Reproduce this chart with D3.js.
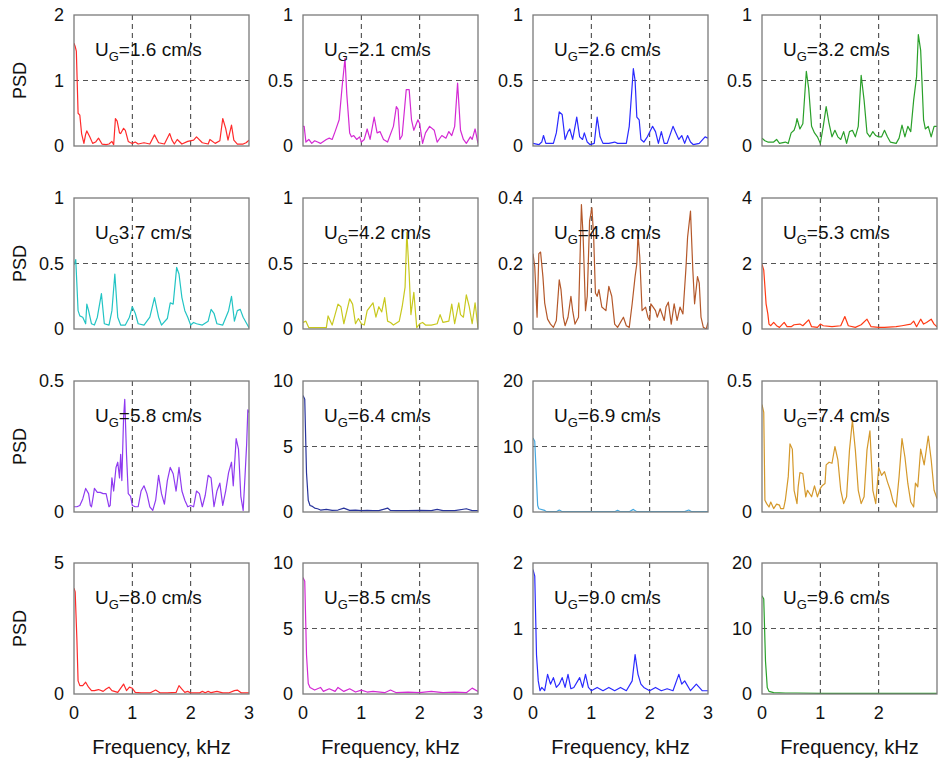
<!DOCTYPE html>
<html>
<head>
<meta charset="utf-8">
<script src="https://cdn.jsdelivr.net/npm/d3@7"></script>
<style>
  html, body { margin: 0; padding: 0; background: #fff; }
  svg { display: block; font-family: "Liberation Sans", Arial, sans-serif; }
</style>
</head>
<body>
<svg id="chart" width="938" height="759"></svg>
<script>
// PSD spectra, [frequency kHz, PSD] pairs, one array per gas velocity
const ug16 = [[0,1.57],[0.02,1.52],[0.04,1.45],[0.07,0.5],[0.1,0.47],[0.13,0.19],[0.17,0.04],[0.2,0.18],[0.22,0.23],[0.27,0.14],[0.32,0.04],[0.37,0.06],[0.42,0.12],[0.48,0.03],[0.55,0.02],[0.6,0.03],[0.65,0.07],[0.68,0.02],[0.71,0.42],[0.74,0.38],[0.78,0.2],[0.8,0.19],[0.85,0.27],[0.88,0.24],[0.93,0.07],[0.97,0.05],[1.0,0.04],[1.05,0.06],[1.1,0.03],[1.2,0.05],[1.3,0.03],[1.38,0.17],[1.45,0.05],[1.55,0.03],[1.64,0.19],[1.68,0.09],[1.72,0.03],[1.77,0.1],[1.85,0.03],[1.95,0.07],[2.05,0.09],[2.1,0.14],[2.2,0.05],[2.3,0.03],[2.33,0.1],[2.42,0.04],[2.5,0.08],[2.55,0.42],[2.6,0.27],[2.64,0.09],[2.7,0.32],[2.74,0.09],[2.8,0.03],[2.9,0.03],[2.95,0.05],[3.0,0.09]];
const ug21 = [[0,0.15],[0.02,0.15],[0.05,0.03],[0.1,0.05],[0.15,0.02],[0.2,0.04],[0.25,0.03],[0.3,0.02],[0.4,0.05],[0.45,0.06],[0.5,0.05],[0.55,0.11],[0.62,0.2],[0.67,0.45],[0.72,0.67],[0.75,0.4],[0.8,0.1],[0.83,0.07],[0.87,0.08],[0.92,0.05],[0.97,0.07],[1.0,0.03],[1.05,0.05],[1.1,0.13],[1.15,0.05],[1.22,0.22],[1.27,0.1],[1.32,0.11],[1.38,0.05],[1.45,0.03],[1.55,0.15],[1.6,0.3],[1.63,0.28],[1.66,0.05],[1.7,0.08],[1.77,0.43],[1.82,0.43],[1.86,0.2],[1.9,0.12],[1.97,0.2],[2.0,0.17],[2.05,0.02],[2.1,0.1],[2.17,0.15],[2.25,0.12],[2.3,0.03],[2.38,0.08],[2.45,0.06],[2.5,0.11],[2.55,0.08],[2.6,0.15],[2.65,0.48],[2.7,0.12],[2.75,0.05],[2.8,0.02],[2.87,0.07],[2.9,0.05],[2.95,0.13],[3.0,0.02]];
const ug26 = [[0,0.02],[0.1,0.01],[0.15,0.03],[0.18,0.08],[0.22,0.02],[0.3,0.02],[0.35,0.02],[0.4,0.1],[0.45,0.26],[0.5,0.24],[0.55,0.05],[0.6,0.11],[0.63,0.13],[0.68,0.05],[0.75,0.22],[0.8,0.07],[0.85,0.05],[0.88,0.1],[0.93,0.03],[0.98,0.01],[1.05,0.02],[1.1,0.22],[1.15,0.07],[1.2,0.02],[1.3,0.02],[1.4,0.03],[1.45,0.02],[1.55,0.02],[1.6,0.02],[1.65,0.15],[1.72,0.59],[1.75,0.5],[1.78,0.22],[1.82,0.2],[1.85,0.05],[1.9,0.03],[1.96,0.07],[2.05,0.15],[2.1,0.11],[2.15,0.02],[2.2,0.11],[2.25,0.02],[2.3,0.02],[2.4,0.15],[2.45,0.1],[2.5,0.05],[2.55,0.08],[2.6,0.02],[2.65,0.08],[2.7,0.03],[2.75,0.01],[2.85,0.02],[2.95,0.07],[3.0,0.06]];
const ug32 = [[0,0.06],[0.05,0.04],[0.1,0.03],[0.2,0.03],[0.25,0.05],[0.3,0.02],[0.4,0.03],[0.45,0.02],[0.5,0.1],[0.55,0.12],[0.58,0.16],[0.6,0.21],[0.65,0.13],[0.7,0.17],[0.76,0.57],[0.8,0.44],[0.85,0.15],[0.9,0.1],[0.95,0.07],[1.0,0.02],[1.05,0.15],[1.1,0.3],[1.15,0.17],[1.2,0.07],[1.25,0.12],[1.3,0.07],[1.35,0.05],[1.4,0.11],[1.45,0.02],[1.5,0.11],[1.55,0.12],[1.6,0.07],[1.65,0.15],[1.7,0.54],[1.75,0.35],[1.8,0.1],[1.85,0.07],[1.9,0.11],[1.95,0.08],[2.0,0.07],[2.05,0.07],[2.1,0.12],[2.15,0.07],[2.2,0.03],[2.3,0.02],[2.35,0.06],[2.4,0.16],[2.45,0.07],[2.5,0.15],[2.55,0.11],[2.6,0.35],[2.65,0.53],[2.68,0.85],[2.72,0.73],[2.77,0.2],[2.8,0.13],[2.85,0.15],[2.9,0.07],[2.95,0.15],[3.0,0.15]];
const ug37 = [[0,0.49],[0.03,0.53],[0.07,0.14],[0.1,0.1],[0.15,0.09],[0.2,0.04],[0.22,0.19],[0.25,0.14],[0.3,0.04],[0.35,0.03],[0.4,0.09],[0.47,0.27],[0.52,0.04],[0.6,0.03],[0.65,0.14],[0.7,0.42],[0.75,0.09],[0.8,0.03],[0.88,0.03],[0.95,0.09],[1.0,0.17],[1.05,0.12],[1.1,0.04],[1.2,0.03],[1.3,0.09],[1.38,0.24],[1.45,0.09],[1.5,0.03],[1.6,0.08],[1.65,0.2],[1.7,0.19],[1.76,0.47],[1.8,0.42],[1.85,0.24],[1.9,0.14],[1.95,0.09],[2.0,0.03],[2.05,0.05],[2.1,0.04],[2.2,0.03],[2.3,0.06],[2.35,0.15],[2.4,0.12],[2.45,0.04],[2.55,0.03],[2.65,0.14],[2.7,0.25],[2.75,0.06],[2.8,0.14],[2.85,0.15],[2.9,0.09],[2.95,0.05],[3.0,0.01]];
const ug42 = [[0,0.05],[0.05,0.06],[0.1,0.01],[0.2,0.01],[0.3,0.01],[0.4,0.01],[0.43,0.1],[0.48,0.05],[0.5,0.03],[0.6,0.19],[0.65,0.17],[0.7,0.04],[0.8,0.23],[0.85,0.19],[0.9,0.04],[0.95,0.08],[1.0,0.04],[1.05,0.03],[1.1,0.14],[1.2,0.2],[1.25,0.09],[1.3,0.17],[1.35,0.13],[1.4,0.24],[1.45,0.06],[1.5,0.05],[1.55,0.03],[1.65,0.06],[1.7,0.17],[1.75,0.32],[1.78,0.74],[1.82,0.42],[1.85,0.11],[1.9,0.28],[1.95,0.01],[2.0,0.04],[2.05,0.05],[2.1,0.03],[2.2,0.03],[2.3,0.04],[2.35,0.11],[2.4,0.05],[2.5,0.06],[2.55,0.19],[2.6,0.04],[2.67,0.2],[2.7,0.11],[2.75,0.09],[2.8,0.26],[2.85,0.17],[2.9,0.04],[2.95,0.2],[3.0,0.01]];
const ug48 = [[0,0.23],[0.03,0.19],[0.07,0.036],[0.1,0.23],[0.13,0.235],[0.17,0.16],[0.2,0.08],[0.25,0.03],[0.3,0.015],[0.35,0.005],[0.4,0.026],[0.45,0.15],[0.48,0.12],[0.52,0.036],[0.55,0.01],[0.6,0.036],[0.65,0.1],[0.68,0.056],[0.72,0.015],[0.78,0.036],[0.83,0.38],[0.86,0.28],[0.9,0.056],[0.93,0.1],[0.97,0.33],[1.01,0.37],[1.04,0.28],[1.07,0.11],[1.1,0.1],[1.13,0.12],[1.18,0.067],[1.25,0.056],[1.3,0.13],[1.35,0.1],[1.4,0.015],[1.45,0.005],[1.55,0.036],[1.6,0.01],[1.65,0.005],[1.7,0.077],[1.75,0.16],[1.78,0.2],[1.8,0.29],[1.83,0.22],[1.87,0.056],[1.93,0.067],[1.97,0.036],[2.0,0.026],[2.02,0.077],[2.06,0.067],[2.1,0.056],[2.13,0.036],[2.18,0.062],[2.25,0.026],[2.28,0.067],[2.32,0.082],[2.37,0.015],[2.42,0.077],[2.47,0.026],[2.52,0.067],[2.57,0.046],[2.62,0.18],[2.65,0.28],[2.7,0.36],[2.74,0.18],[2.77,0.077],[2.82,0.16],[2.85,0.14],[2.88,0.036],[2.92,0.005],[2.97,0.0],[3.0,0.02]];
const ug53 = [[0,1.98],[0.03,1.8],[0.07,0.77],[0.1,0.46],[0.12,0.15],[0.15,0.1],[0.2,0.2],[0.25,0.1],[0.3,0.05],[0.38,0.2],[0.43,0.07],[0.5,0.07],[0.55,0.13],[0.65,0.15],[0.7,0.1],[0.8,0.28],[0.85,0.07],[0.95,0.05],[1.0,0.15],[1.05,0.1],[1.2,0.07],[1.35,0.1],[1.42,0.38],[1.48,0.1],[1.6,0.05],[1.7,0.13],[1.8,0.3],[1.87,0.07],[2.0,0.05],[2.1,0.05],[2.3,0.07],[2.4,0.1],[2.55,0.15],[2.6,0.24],[2.65,0.07],[2.72,0.3],[2.77,0.15],[2.82,0.2],[2.9,0.3],[2.95,0.15],[3.0,0.07]];
const ug58 = [[0,0.02],[0.05,0.02],[0.1,0.025],[0.15,0.05],[0.2,0.09],[0.25,0.07],[0.28,0.025],[0.3,0.02],[0.33,0.06],[0.35,0.09],[0.4,0.075],[0.45,0.075],[0.5,0.07],[0.55,0.07],[0.6,0.02],[0.62,0.025],[0.65,0.13],[0.68,0.08],[0.72,0.17],[0.75,0.19],[0.78,0.13],[0.8,0.22],[0.82,0.12],[0.85,0.36],[0.87,0.43],[0.9,0.22],[0.93,0.07],[0.97,0.06],[1.0,0.025],[1.05,0.02],[1.1,0.02],[1.15,0.08],[1.2,0.1],[1.25,0.07],[1.3,0.02],[1.35,0.006],[1.4,0.045],[1.45,0.14],[1.5,0.07],[1.55,0.03],[1.6,0.12],[1.65,0.17],[1.7,0.146],[1.75,0.08],[1.8,0.17],[1.85,0.08],[1.9,0.045],[1.95,0.02],[2.0,0.025],[2.05,0.02],[2.1,0.08],[2.15,0.07],[2.2,0.02],[2.25,0.064],[2.3,0.14],[2.35,0.13],[2.4,0.02],[2.45,0.08],[2.5,0.11],[2.55,0.025],[2.6,0.08],[2.65,0.15],[2.7,0.19],[2.73,0.1],[2.78,0.28],[2.82,0.24],[2.86,0.06],[2.9,0.006],[2.93,0.13],[2.96,0.26],[2.98,0.39],[3.0,0.38]];
const ug64 = [[0,8.9],[0.03,8.6],[0.06,3.0],[0.09,0.9],[0.12,0.5],[0.15,0.45],[0.2,0.3],[0.25,0.25],[0.3,0.15],[0.4,0.2],[0.5,0.12],[0.6,0.15],[0.7,0.3],[0.8,0.12],[0.9,0.15],[1.0,0.1],[1.1,0.12],[1.2,0.1],[1.3,0.1],[1.45,0.3],[1.5,0.12],[1.6,0.1],[1.8,0.1],[2.0,0.12],[2.2,0.1],[2.3,0.2],[2.4,0.1],[2.6,0.1],[2.8,0.25],[2.9,0.1],[3.0,0.1]];
const ug69 = [[0,11.3],[0.03,10.8],[0.08,1.0],[0.1,0.5],[0.2,0.25],[0.23,0.05],[0.4,0.05],[0.45,0.3],[0.5,0.05],[1.4,0.05],[1.45,0.25],[1.5,0.05],[1.65,0.05],[1.72,0.4],[1.78,0.05],[2.6,0.05],[2.67,0.3],[2.72,0.05],[3.0,0.05]];
const ug74 = [[0,0.41],[0.03,0.38],[0.05,0.045],[0.08,0.032],[0.12,0.019],[0.15,0.038],[0.2,0.013],[0.25,0.03],[0.3,0.026],[0.32,0.013],[0.37,0.013],[0.4,0.045],[0.45,0.135],[0.48,0.26],[0.52,0.24],[0.55,0.083],[0.6,0.032],[0.62,0.096],[0.65,0.15],[0.7,0.147],[0.75,0.058],[0.78,0.083],[0.85,0.058],[0.9,0.1],[0.95,0.058],[1.0,0.09],[1.03,0.1],[1.08,0.109],[1.1,0.18],[1.15,0.19],[1.2,0.186],[1.25,0.25],[1.3,0.2],[1.35,0.083],[1.4,0.032],[1.45,0.058],[1.5,0.237],[1.55,0.35],[1.6,0.237],[1.65,0.083],[1.7,0.032],[1.75,0.058],[1.8,0.237],[1.85,0.31],[1.9,0.083],[1.95,0.032],[2.0,0.17],[2.05,0.14],[2.1,0.154],[2.15,0.115],[2.2,0.083],[2.25,0.038],[2.3,0.019],[2.35,0.135],[2.4,0.28],[2.45,0.21],[2.5,0.109],[2.55,0.038],[2.6,0.019],[2.63,0.11],[2.67,0.096],[2.72,0.24],[2.78,0.18],[2.85,0.29],[2.9,0.2],[2.95,0.083],[3.0,0.051]];
const ug80 = [[0,4.04],[0.02,3.9],[0.05,2.05],[0.07,0.5],[0.1,0.32],[0.15,0.32],[0.2,0.45],[0.25,0.26],[0.3,0.13],[0.35,0.13],[0.42,0.17],[0.5,0.1],[0.55,0.19],[0.6,0.26],[0.65,0.13],[0.75,0.06],[0.85,0.38],[0.9,0.13],[0.95,0.26],[1.0,0.22],[1.05,0.06],[1.15,0.04],[1.3,0.04],[1.4,0.15],[1.48,0.04],[1.6,0.04],[1.75,0.06],[1.8,0.32],[1.85,0.19],[1.9,0.06],[1.95,0.1],[2.0,0.04],[2.15,0.04],[2.2,0.1],[2.25,0.05],[2.3,0.1],[2.35,0.05],[2.45,0.1],[2.55,0.04],[2.65,0.04],[2.75,0.13],[2.8,0.15],[2.87,0.04],[3.0,0.04]];
const ug85 = [[0,8.9],[0.03,8.6],[0.06,3.0],[0.09,0.8],[0.12,0.5],[0.2,0.3],[0.3,0.5],[0.35,0.2],[0.45,0.4],[0.55,0.2],[0.6,0.5],[0.7,0.2],[0.8,0.4],[0.9,0.15],[1.0,0.3],[1.1,0.15],[1.2,0.2],[1.4,0.1],[1.5,0.3],[1.6,0.1],[1.8,0.15],[2.0,0.1],[2.2,0.2],[2.4,0.1],[2.6,0.15],[2.8,0.1],[2.9,0.45],[3.0,0.2]];
const ug90 = [[0,1.9],[0.03,1.8],[0.06,0.6],[0.09,0.2],[0.12,0.05],[0.15,0.1],[0.2,0.05],[0.25,0.3],[0.3,0.15],[0.35,0.25],[0.4,0.1],[0.45,0.15],[0.5,0.25],[0.55,0.1],[0.6,0.3],[0.65,0.08],[0.7,0.1],[0.8,0.25],[0.85,0.1],[0.9,0.3],[0.95,0.1],[1.0,0.05],[1.1,0.1],[1.2,0.05],[1.3,0.1],[1.4,0.05],[1.5,0.1],[1.6,0.05],[1.7,0.2],[1.75,0.6],[1.8,0.3],[1.85,0.15],[1.9,0.1],[2.0,0.05],[2.1,0.1],[2.2,0.05],[2.3,0.08],[2.4,0.05],[2.5,0.3],[2.55,0.15],[2.6,0.2],[2.7,0.05],[2.8,0.15],[2.9,0.05],[3.0,0.05]];
const ug96 = [[0,15.0],[0.03,14.5],[0.06,5.0],[0.09,1.0],[0.12,0.4],[0.2,0.2],[0.4,0.15],[0.6,0.15],[1.0,0.1],[1.5,0.1],[2.0,0.1],[2.5,0.1],[3.0,0.1]];

const series = [ug16, ug21, ug26, ug32, ug37, ug42, ug48, ug53, ug58, ug64, ug69, ug74, ug80, ug85, ug90, ug96];
// velocity text after the "U_G" part of each label
const velocityLabels = ["=1.6 cm/s", "=2.1 cm/s", "=2.6 cm/s", "=3.2 cm/s",
                        "3.7 cm/s", "=4.2 cm/s", "=4.8 cm/s", "=5.3 cm/s",
                        "=5.8 cm/s", "=6.4 cm/s", "=6.9 cm/s", "=7.4 cm/s",
                        "=8.0 cm/s", "=8.5 cm/s", "=9.0 cm/s", "=9.6 cm/s"];
const yMax = [2, 1, 1, 1, 1, 1, 0.4, 4, 0.5, 10, 20, 0.5, 5, 10, 2, 20];
const yTicks = [[0,1,2],[0,0.5,1],[0,0.5,1],[0,0.5,1],
                [0,0.5,1],[0,0.5,1],[0,0.2,0.4],[0,2,4],
                [0,0.5],[0,5,10],[0,10,20],[0,0.5],
                [0,5],[0,5,10],[0,1,2],[0,10,20]];
const yGrid = [[1],[0.5],[0.5],[0.5],[0.5],[0.5],[0.2],[2],[],[5],[10],[],[],[5],[1],[10]];
const xTicks = [[0, 1, 2, 3], [0, 1, 2, 3], [0, 1, 2, 3], [0, 1, 2]];
const xGrid = [1, 2];
const colors = ["#ff2a2a", "#d42ad4", "#2a2aff", "#2aa02a",
                "#22c4c4", "#c8c81e", "#b4582a", "#ff3a14",
                "#8f3af0", "#28349c", "#45a8e0", "#d4982a",
                "#ff2a2a", "#d42ad4", "#2a2aff", "#2aa02a"];

const svg = d3.select("#chart");
svg.append("rect").attr("width", 938).attr("height", 759).attr("fill", "#fff");

const colLeft = [74, 303, 533, 762];
const rowTop = [15, 198, 381, 563];
const W = 175, H = 131;

series.forEach((data, i) => {
  const r = Math.floor(i / 4), c = i % 4;
  const g = svg.append("g").attr("transform", `translate(${colLeft[c]},${rowTop[r]})`);
  const x = d3.scaleLinear().domain([0, 3]).range([0, W]);
  const y = d3.scaleLinear().domain([0, yMax[i]]).range([H, 0]);

  g.append("clipPath").attr("id", "clip" + i)
    .append("rect").attr("width", W).attr("height", H);

  // dashed grid
  g.selectAll(".vg").data(xGrid).join("line")
    .attr("x1", d => x(d)).attr("x2", d => x(d)).attr("y1", 0).attr("y2", H)
    .attr("stroke", "#3a3a3a").attr("stroke-width", 1).attr("stroke-dasharray", "5,4");
  g.selectAll(".hg").data(yGrid[i]).join("line")
    .attr("x1", 0).attr("x2", W).attr("y1", d => y(d)).attr("y2", d => y(d))
    .attr("stroke", "#555").attr("stroke-width", 1).attr("stroke-dasharray", "5,4");

  // spectrum
  const line = d3.line().x(d => x(d[0])).y(d => y(d[1]));
  g.append("path").datum(data)
    .attr("clip-path", `url(#clip${i})`)
    .attr("d", line).attr("fill", "none")
    .attr("stroke", colors[i]).attr("stroke-width", 1.2).attr("stroke-linejoin", "round");

  // frame
  g.append("rect").attr("width", W).attr("height", H)
    .attr("fill", "none").attr("stroke", "#7a7a7a").attr("stroke-width", 1.3);

  // y tick labels
  g.selectAll(".yt").data(yTicks[i]).join("text")
    .attr("x", -10).attr("y", d => y(d)).attr("dy", "0.36em")
    .attr("text-anchor", "end").attr("font-size", 18).attr("fill", "#111")
    .text(d => d3.format("~g")(d));

  // velocity annotation
  const t = g.append("text").attr("x", 21).attr("y", 41)
    .attr("font-size", 19).attr("fill", "#111");
  t.append("tspan").text("U");
  t.append("tspan").attr("font-size", 13).attr("dy", 5).text("G");
  t.append("tspan").attr("dy", -5).text(velocityLabels[i]);

  if (c === 0) {
    svg.append("text")
      .attr("transform", `translate(20,${rowTop[r] + H / 2}) rotate(-90)`)
      .attr("text-anchor", "middle").attr("dy", "0.36em")
      .attr("font-size", 18).attr("fill", "#111").text("PSD");
  }
  if (r === 3) {
    g.selectAll(".xt").data(xTicks[c]).join("text")
      .attr("x", d => x(d)).attr("y", H + 19).attr("dy", "0.36em")
      .attr("text-anchor", "middle").attr("font-size", 18).attr("fill", "#111")
      .text(d => d);
    g.append("text").attr("x", W / 2).attr("y", H + 53).attr("dy", "0.36em")
      .attr("text-anchor", "middle").attr("font-size", 20).attr("fill", "#111")
      .text("Frequency, kHz");
  }
});
</script>
</body>
</html>
